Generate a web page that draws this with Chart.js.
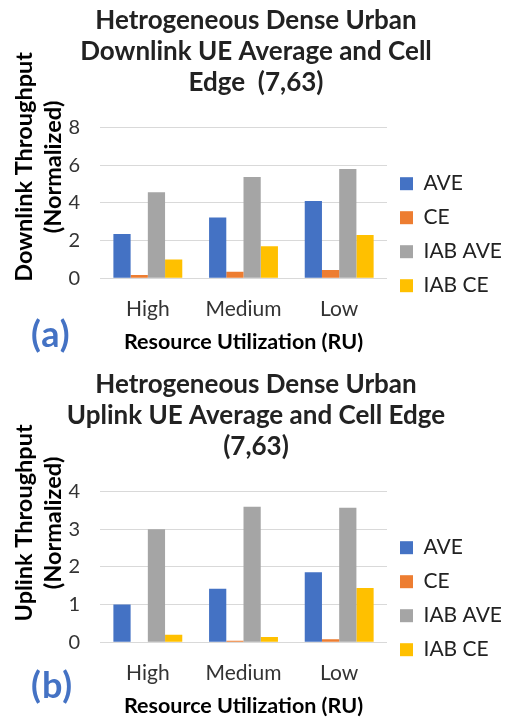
<!DOCTYPE html>
<html>
<head>
<meta charset="utf-8">
<script src="https://cdn.jsdelivr.net/npm/chart.js@4.4.1/dist/chart.umd.min.js"></script>
<style>
    body { margin: 0; background: #fff; overflow: hidden; }
    .panel { position: relative; width: 512px; height: 360px; }
    .tag {
        position: absolute; left: 31px; font-family: Lato, sans-serif;
        font-weight: bold; font-size: 36px; letter-spacing: 1px; color: #4472c4;
    }
</style>
</head>
<body>
<div class="panel">
    <canvas id="dlChart" width="512" height="360"></canvas>
    <div class="tag" style="top: 311px;">(a)</div>
</div>
<div class="panel" style="margin-top: 4px;">
    <canvas id="ulChart" width="512" height="360"></canvas>
    <div class="tag" style="top: 298px;">(b)</div>
</div>
<script>
const categories = ['High', 'Medium', 'Low'];
const seriesNames = ['AVE', 'CE', 'IAB AVE', 'IAB CE'];

// downlink (a)
const dlAve = [2.35, 3.23, 4.1];
const dlCe = [0.17, 0.34, 0.43];
const dlIabAve = [4.57, 5.37, 5.8];
const dlIabCe = [1.0, 1.7, 2.3];

// uplink (b)
const ulAve = [1.0, 1.42, 1.86];
const ulCe = [0.01, 0.04, 0.08];
const ulIabAve = [3.0, 3.6, 3.57];
const ulIabCe = [0.2, 0.14, 1.44];

const colors = ['#4472c4', '#ed7d31', '#a5a5a5', '#ffc000'];

Chart.defaults.font.family = 'Lato, sans-serif';
Chart.defaults.color = '#3a3a3a';

// the y axis title sits higher than the plot centre in the original, so draw it ourselves
const yTitlePlugin = {
    id: 'yTitle',
    afterDraw(chart, args, opts) {
        const ctx = chart.ctx;
        const area = chart.chartArea;
        const cy = (area.top + area.bottom) / 2 + opts.shift;
        ctx.save();
        ctx.font = 'bold 23.5px Lato, sans-serif';
        ctx.fillStyle = '#000';
        ctx.textAlign = 'center';
        ctx.textBaseline = 'middle';
        opts.lines.forEach((line, i) => {
            ctx.save();
            ctx.translate(opts.x[i], cy);
            ctx.rotate(-Math.PI / 2);
            ctx.fillText(line, 0, 0);
            ctx.restore();
        });
        ctx.restore();
    }
};

function makeChart(id, titleLines, yTitleLines, yTitleShift, seriesValues, yMax, yStep) {
    var ctx = document.getElementById(id).getContext('2d');

    const datasets = seriesValues.map((vals, i) => ({
        label: seriesNames[i],
        data: vals,
        backgroundColor: colors[i],
        barPercentage: 1.0,
        categoryPercentage: 0.72
    }));

    return new Chart(ctx, {
        type: 'bar',
        data: { labels: categories, datasets: datasets },
        plugins: [yTitlePlugin],
        options: {
            responsive: false,
            animation: false,
            layout: { padding: { left: 0, right: 0, top: 0, bottom: 5 } },
            plugins: {
                title: {
                    display: true,
                    text: titleLines,
                    color: '#222',
                    font: { size: 26, weight: 'bold' },
                    lineHeight: 1.25,
                    padding: { top: 5, bottom: 29 }
                },
                legend: {
                    position: 'right',
                    title: { display: true, text: '', padding: { top: 100, bottom: 0 } },
                    labels: {
                        boxWidth: 13,
                        boxHeight: 13,
                        padding: 13,
                        color: '#222',
                        font: { size: 21 }
                    }
                },
                tooltip: { enabled: false },
                yTitle: { lines: yTitleLines, x: [24, 53], shift: yTitleShift }
            },
            scales: {
                x: {
                    grid: { display: false },
                    border: { display: false },
                    ticks: { color: '#333', font: { size: 21, lineHeight: 1.0 }, padding: 13 },
                    title: {
                        display: true,
                        text: 'Resource Utilization (RU)',
                        color: '#000',
                        font: { size: 21.5, weight: 'bold' },
                        padding: { top: -4, bottom: 0 }
                    }
                },
                y: {
                    min: 0,
                    max: yMax,
                    afterFit(scale) { scale.width = 100; },
                    ticks: { stepSize: yStep, color: '#333', font: { size: 20 }, padding: 20 },
                    grid: { color: '#d9d9d9', drawTicks: false },
                    border: { display: false }
                }
            }
        }
    });
}

makeChart('dlChart',
    ['Hetrogeneous Dense Urban', 'Downlink UE Average and Cell', 'Edge  (7,63)'],
    ['Downlink Throughput', '(Normalized)'], -36,
    [dlAve, dlCe, dlIabAve, dlIabCe], 8, 2);

makeChart('ulChart',
    ['Hetrogeneous Dense Urban', 'Uplink UE Average and Cell Edge', '(7,63)'],
    ['Uplink Throughput', '(Normalized)'], -44,
    [ulAve, ulCe, ulIabAve, ulIabCe], 4, 1);
</script>
</body>
</html>
